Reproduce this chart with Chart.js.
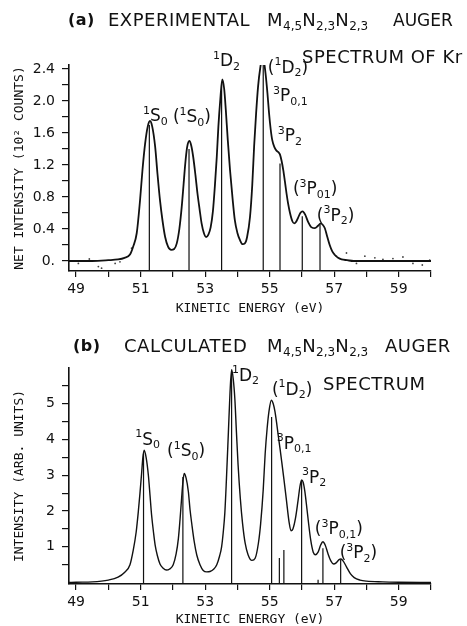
<!DOCTYPE html>
<html>
<head>
<meta charset="utf-8">
<script src="https://cdn.jsdelivr.net/npm/chart.js@4.4.1/dist/chart.umd.min.js"></script>
<style>
  html, body { margin: 0; padding: 0; background: #fff; }
  #wrap { position: relative; width: 467px; height: 626px; overflow: hidden; font-family: "DejaVu Sans"; color: #111; }
  canvas { position: absolute; left: 0; }
  .t { position: absolute; font-size: 18px; line-height: 18px; white-space: nowrap; letter-spacing: 0.5px; }
  .t sub { font-size: 12px; vertical-align: -4px; letter-spacing: 0; line-height: 0; }
</style>
</head>
<body>
<div id="wrap">
  <canvas id="chartA" width="467" height="315" style="top:0"></canvas>
  <canvas id="chartB" width="467" height="311" style="top:315px"></canvas>

  <span class="t" style="left:68px;top:11px;font-weight:bold;font-size:16px">(a)</span>
  <span class="t" style="left:108px;top:11px">EXPERIMENTAL</span>
  <span class="t" style="left:267px;top:11px">M<sub>4,5</sub>N<sub>2,3</sub>N<sub>2,3</sub></span>
  <span class="t" style="left:393px;top:11px;font-size:17px;letter-spacing:0">AUGER</span>
  <span class="t" style="left:302px;top:48px">SPECTRUM OF Kr</span>

  <span class="t" style="left:73px;top:337px;font-weight:bold;font-size:16px">(b)</span>
  <span class="t" style="left:124px;top:337px">CALCULATED</span>
  <span class="t" style="left:267px;top:337px">M<sub>4,5</sub>N<sub>2,3</sub>N<sub>2,3</sub></span>
  <span class="t" style="left:385px;top:337px">AUGER</span>
  <span class="t" style="left:323px;top:375px">SPECTRUM</span>
</div>

<script>
// --- data ---

// kinetic energy axis (eV)
const xMin = 48.78, xMax = 60;
const xTickValues = [49, 50, 51, 52, 53, 54, 55, 56, 57, 58, 59, 60];
const xTickLabels = [49, 51, 53, 55, 57, 59];

// (a) experimental spectrum, [eV, 10^2 counts]
const expSpectrum = [
  [48.78,0],[49.0,0],[49.5,0],[50.0,0.01],[50.3,0.02],[50.5,0.04],[50.67,0.08],[50.77,0.18],[50.88,0.35],
  [50.98,0.75],[51.06,1.15],[51.14,1.47],[51.22,1.68],[51.29,1.75],[51.36,1.68],[51.45,1.43],[51.52,1.1],
  [51.6,0.76],[51.68,0.5],[51.76,0.3],[51.85,0.18],[51.95,0.14],[52.04,0.15],[52.12,0.22],[52.2,0.4],
  [52.27,0.66],[52.33,0.95],[52.38,1.2],[52.44,1.42],[52.51,1.5],[52.57,1.44],[52.63,1.3],[52.7,1.07],
  [52.76,0.85],[52.83,0.64],[52.89,0.47],[52.96,0.35],[53.03,0.3],[53.1,0.33],[53.17,0.42],[53.24,0.62],
  [53.3,0.93],[53.36,1.3],[53.41,1.68],[53.47,2.02],[53.53,2.27],[53.59,2.15],[53.64,1.89],[53.7,1.52],
  [53.77,1.14],[53.85,0.78],[53.92,0.51],[54.0,0.35],[54.08,0.26],[54.16,0.21],[54.23,0.22],[54.3,0.3],
  [54.39,0.55],[54.46,0.95],[54.52,1.45],[54.58,1.85],[54.64,2.18],[54.71,2.42],[54.77,2.54],[54.82,2.5],
  [54.87,2.35],[54.93,2.1],[54.98,1.85],[55.03,1.65],[55.08,1.51],[55.15,1.42],[55.21,1.38],[55.27,1.36],
  [55.32,1.33],[55.37,1.25],[55.42,1.14],[55.47,1.0],[55.52,0.85],[55.57,0.72],[55.63,0.6],[55.7,0.5],
  [55.76,0.47],[55.82,0.49],[55.88,0.54],[55.95,0.6],[56.02,0.62],[56.1,0.58],[56.19,0.49],[56.3,0.42],
  [56.4,0.41],[56.5,0.44],[56.58,0.47],[56.65,0.45],[56.71,0.41],[56.78,0.31],[56.86,0.2],[56.94,0.12],
  [57.02,0.075],[57.12,0.04],[57.23,0.02],[57.4,0.01],[57.6,0],[58.0,0],[59.0,0],[60.0,0]
];

// (a) scattered measured points in the tails
const expDots = [
  [49.07,-0.03],[49.41,0.025],[49.69,-0.07],[49.79,-0.09],[50.21,-0.03],[50.36,-0.01],[50.72,0.16],
  [57.07,0.06],[57.38,0.1],[57.69,-0.03],[57.95,0.06],[58.26,0.04],[58.51,0.02],[58.82,0.03],
  [59.13,0.05],[59.44,-0.03],[59.73,-0.05],[59.96,0.01]
];

// (a) line positions and heights
const expSticks = [[51.27,1.70],[52.50,1.40],[53.51,2.22],[54.80,2.50],[55.32,1.22],[56.01,0.56],[56.56,0.46]];

// (b) calculated spectrum, [eV, arb. units]
const calcSpectrum = [
  [48.78,0],[49.0,0.01],[49.5,0.02],[50.0,0.07],[50.3,0.15],[50.5,0.28],[50.67,0.5],[50.77,0.9],[50.86,1.4],
  [50.93,2.0],[50.98,2.5],[51.03,3.05],[51.07,3.5],[51.11,3.7],[51.17,3.5],[51.24,3.0],[51.29,2.45],
  [51.34,1.89],[51.4,1.4],[51.45,1.05],[51.52,0.75],[51.6,0.52],[51.7,0.4],[51.8,0.35],[51.9,0.38],
  [52.01,0.5],[52.1,0.8],[52.17,1.23],[52.22,1.75],[52.27,2.35],[52.31,2.8],[52.35,3.05],[52.41,2.92],
  [52.48,2.54],[52.53,2.05],[52.59,1.61],[52.66,1.15],[52.74,0.77],[52.84,0.5],[52.94,0.34],[53.05,0.3],
  [53.15,0.31],[53.27,0.38],[53.36,0.5],[53.45,0.75],[53.51,1.0],[53.56,1.4],[53.61,1.95],[53.66,2.9],
  [53.72,4.2],[53.77,5.3],[53.82,5.95],[53.87,5.7],[53.92,5.14],[53.97,4.2],[54.02,3.3],[54.09,2.35],
  [54.16,1.65],[54.24,1.1],[54.33,0.78],[54.45,0.62],[54.55,0.68],[54.65,1.1],[54.72,1.65],[54.8,2.6],
  [54.86,3.6],[54.92,4.3],[54.98,4.8],[55.05,5.1],[55.11,5.0],[55.16,4.8],[55.21,4.5],[55.26,4.15],
  [55.32,3.75],[55.37,3.4],[55.44,2.9],[55.52,2.3],[55.6,1.7],[55.66,1.45],[55.72,1.5],[55.8,1.8],
  [55.88,2.3],[55.94,2.7],[55.99,2.87],[56.04,2.8],[56.09,2.55],[56.15,2.1],[56.2,1.7],[56.27,1.2],
  [56.35,0.85],[56.42,0.78],[56.5,0.85],[56.58,1.05],[56.65,1.14],[56.72,1.05],[56.81,0.8],[56.9,0.6],
  [56.98,0.52],[57.06,0.55],[57.15,0.64],[57.21,0.66],[57.28,0.6],[57.38,0.44],[57.5,0.25],[57.62,0.14],
  [57.8,0.07],[58.0,0.04],[58.5,0.02],[59.0,0.01],[60.0,0]
];

// (b) line positions and heights
const calcSticks = [[51.09,3.6],[52.31,2.95],[53.82,5.9],[55.06,4.63],[55.30,0.69],[55.44,0.91],
  [55.99,2.85],[56.50,0.08],[56.65,0.96],[57.20,0.63]];

// y axes
const yRangeA = [-0.125, 2.45];
const yTicksA = [0, 0.2, 0.4, 0.6, 0.8, 1.0, 1.2, 1.4, 1.6, 1.8, 2.0, 2.2, 2.4];
const yLabelValA = [0, 0.4, 0.8, 1.2, 1.6, 2.0, 2.4];
const yLabelTxtA = ['0.', '0.4', '0.8', '1.2', '1.6', '2.0', '2.4'];

const yRangeB = [-0.04, 6.0];
const yTicksB = [0.5, 1, 1.5, 2, 2.5, 3, 3.5, 4, 4.5, 5, 5.5];
const yLabelValB = [1, 2, 3, 4, 5];
const yLabelTxtB = ['1', '2', '3', '4', '5'];

// peak labels: ^{..} superscript, _{..} subscript; anchored at [eV, value]
const peakLabelsA = [
  ['^{1}S_{0}', 51.07, 1.80], ['(^{1}S_{0})', 52.00, 1.79], ['^{1}D_{2}', 53.24, 2.49],
  ['(^{1}D_{2})', 54.94, 2.41], ['^{3}P_{0,1}', 55.10, 2.05], ['^{3}P_{2}', 55.25, 1.55],
  ['(^{3}P_{01})', 55.72, 0.89], ['(^{3}P_{2})', 56.46, 0.56]
];
const peakLabelsB = [
  ['^{1}S_{0}', 50.83, 3.98], ['(^{1}S_{0})', 51.82, 3.65], ['^{1}D_{2}', 53.83, 5.77],
  ['(^{1}D_{2})', 55.07, 5.38], ['^{3}P_{0,1}', 55.22, 3.87], ['^{3}P_{2}', 56.00, 2.92],
  ['(^{3}P_{0,1})', 56.40, 1.47], ['(^{3}P_{2})', 57.17, 0.80]
];

// --- drawing ---
const ink = '#111';

function splitLabel(str) {
  const out = [];
  const re = /\^\{([^}]*)\}|_\{([^}]*)\}|([^^_]+)/g;
  let m;
  while ((m = re.exec(str)) !== null) {
    if (m[1] !== undefined) out.push({ s: m[1], mode: 'sup' });
    else if (m[2] !== undefined) out.push({ s: m[2], mode: 'sub' });
    else out.push({ s: m[3], mode: '' });
  }
  return out;
}

const peakLabelPlugin = {
  id: 'peakLabels',
  afterDatasetsDraw(chart, args, opts) {
    const ctx = chart.ctx, xs = chart.scales.x, ys = chart.scales.y;
    ctx.save();
    ctx.fillStyle = ink;
    ctx.textBaseline = 'middle';
    ctx.textAlign = 'left';
    opts.items.forEach(([text, ex, ey]) => {
      let px = xs.getPixelForValue(ex);
      const py = ys.getPixelForValue(ey);
      splitLabel(text).forEach(p => {
        ctx.font = (p.mode ? '11px' : '17px') + ' "DejaVu Sans"';
        const dy = p.mode === 'sup' ? -6 : (p.mode === 'sub' ? 5 : 0);
        ctx.fillText(p.s, px, py + dy);
        px += ctx.measureText(p.s).width;
      });
    });
    ctx.restore();
  }
};

function toPoints(arr) {
  return arr.map(([x, y]) => ({ x: x, y: y }));
}

function stickPoints(arr, base) {
  return arr.flatMap(([x, h]) => [{ x: x, y: base }, { x: x, y: h }, { x: x, y: null }]);
}

function makeChart(id, cfg) {
  const axisFont = { family: 'DejaVu Sans', size: 14 };
  const titleFont = { family: 'DejaVu Sans Mono', size: 13, lineHeight: 1 };
  const datasets = [
    {
      data: toPoints(cfg.spectrum), showLine: true, borderColor: ink, borderWidth: cfg.curveWidth,
      pointRadius: 0, cubicInterpolationMode: 'monotone', fill: false
    },
    {
      data: stickPoints(cfg.sticks, cfg.yRange[0]), showLine: true, borderColor: ink, borderWidth: 1.2,
      pointRadius: 0, spanGaps: false, tension: 0
    }
  ];
  if (cfg.dots) {
    datasets.push({
      data: toPoints(cfg.dots), showLine: false, pointRadius: 0.9, pointBorderWidth: 0,
      pointBackgroundColor: '#444'
    });
  }
  return new Chart(document.getElementById(id), {
    type: 'scatter',
    data: { datasets: datasets },
    options: {
      responsive: false,
      animation: false,
      layout: { padding: { top: cfg.top, right: 36, left: 0, bottom: 0 } },
      plugins: {
        legend: { display: false },
        tooltip: { enabled: false },
        peakLabels: { items: cfg.labels }
      },
      scales: {
        x: {
          type: 'linear', min: xMin, max: xMax,
          afterFit: s => { s.height = cfg.xAxisHeight; },
          afterBuildTicks: s => { s.ticks = xTickValues.map(v => ({ value: v })); },
          ticks: {
            autoSkip: false, maxRotation: 0, padding: 4, color: ink, font: axisFont,
            callback: v => xTickLabels.includes(v) ? String(v) : ''
          },
          grid: { drawOnChartArea: false, drawTicks: true, tickLength: 6, color: ink, lineWidth: 1.2 },
          border: { display: true, color: ink, width: 1.6 },
          title: { display: true, text: 'KINETIC ENERGY (eV)', color: ink, font: titleFont, padding: 0 }
        },
        y: {
          type: 'linear', min: cfg.yRange[0], max: cfg.yRange[1],
          afterFit: s => { s.width = 69; },
          afterBuildTicks: s => { s.ticks = cfg.yTicks.map(v => ({ value: v })); },
          ticks: {
            autoSkip: false, padding: 7, color: ink, font: axisFont,
            callback: v => {
              const i = cfg.yLabelVal.findIndex(t => Math.abs(t - v) < 1e-6);
              return i >= 0 ? cfg.yLabelTxt[i] : '';
            }
          },
          grid: { drawOnChartArea: false, drawTicks: true, tickLength: 7, color: ink, lineWidth: 1.2 },
          border: { display: true, color: ink, width: 1.6 },
          title: { display: true, text: cfg.yTitle, color: ink, font: titleFont, padding: { top: 13, bottom: 0 } }
        }
      }
    },
    plugins: [peakLabelPlugin]
  });
}

makeChart('chartA', {
  spectrum: expSpectrum, sticks: expSticks, dots: expDots, labels: peakLabelsA,
  yRange: yRangeA, yTicks: yTicksA, yLabelVal: yLabelValA, yLabelTxt: yLabelTxtA,
  yTitle: 'NET INTENSITY (10\u00B2 COUNTS)', top: 65, xAxisHeight: 44, curveWidth: 1.8
});

makeChart('chartB', {
  spectrum: calcSpectrum, sticks: calcSticks, dots: null, labels: peakLabelsB,
  yRange: yRangeB, yTicks: yTicksB, yLabelVal: yLabelValB, yLabelTxt: yLabelTxtB,
  yTitle: 'INTENSITY (ARB. UNITS)', top: 53, xAxisHeight: 42, curveWidth: 1.4
});
</script>
</body>
</html>
